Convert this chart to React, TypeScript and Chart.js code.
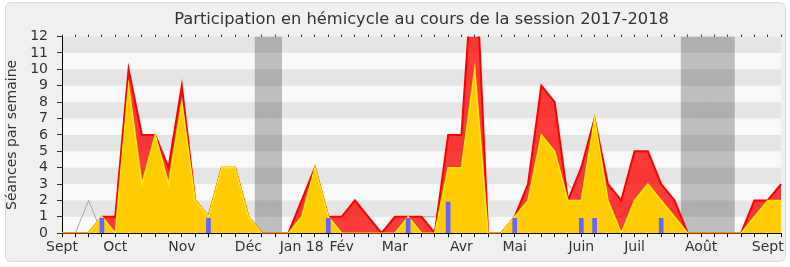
import React, { useEffect, useRef } from "react";
import { Chart, registerables } from "chart.js";

Chart.register(...registerables);

// 55 weeks, Sept 2017 -> Sept 2018
const weekLabels: string[] = [
  "Sept", "", "", "", "Oct", "", "", "", "", "Nov", "", "", "", "", "Déc", "", "", "", "Jan 18", "", "",
  "Fév", "", "", "", "Mar", "", "", "", "", "Avr", "", "", "", "Mai", "", "", "", "", "Juin", "", "", "",
  "Juil", "", "", "", "", "Août", "", "", "", "", "Sept", "",
];

// Présences (red area)
const presences: number[] = [
  0, 0, 0, 1, 1, 10, 6, 6, 4, 9, 2, 1, 4, 4, 1, 0, 0, 0, 2, 4, 1, 1, 2, 1, 0, 1, 1, 1, 0, 6, 6, 18, 0, 0,
  1, 3, 9, 8, 2, 4, 7, 3, 2, 5, 5, 3, 2, 0, 0, 0, 0, 0, 2, 2, 3,
];

// Participations (yellow area)
const participations: number[] = [
  0, 0, 0, 1, 0, 9, 3, 6, 3, 8, 2, 1, 4, 4, 1, 0, 0, 0, 1, 4, 1, 0, 0, 0, 0, 0, 1, 0, 0, 4, 4, 10, 0, 0,
  1, 2, 6, 5, 2, 2, 7, 2, 0, 2, 3, 2, 1, 0, 0, 0, 0, 0, 1, 2, 2,
];

// Médiane (gray line)
const mediane: number[] = [
  0, 0, 2, 0, 1, 2, 1, 1, 1, 2, 1, 1, 2, 1, 1, 0, 0, 0, 1, 1, 1, 0, 0, 0, 0, 1, 1, 1, 1, 2, 2, 5, 0, 0,
  1, 3, 3, 3, 3, 2, 2, 1, 1, 2, 2, 2, 1, 0, 0, 0, 0, 0, 2, 1, 2,
];

// Questions orales (blue bars)
const questions: (number | null)[] = [
  null, null, null, 0.9, null, null, null, null, null, null, null, 0.9, null, null, null, null, null, null,
  null, null, 0.9, null, null, null, null, null, 0.9, null, null, 1.9, null, null, null, null, 0.9, null,
  null, null, null, 0.9, 0.9, null, null, null, null, 0.9, null, null, null, null, null, null, null, null, null,
];

// Vacances parlementaires (gray bands)
const vacances: (number | null)[] = [
  null, null, null, null, null, null, null, null, null, null, null, null, null, null, null, 12, 12, null,
  null, null, null, null, null, null, null, null, null, null, null, null, null, null, null, null, null, null,
  null, null, null, null, null, null, null, null, null, null, null, 12, 12, 12, 12, null, null, null, null,
];

const VAC_INDEX = 0;
const FONT = "DejaVu Sans";

const framePlugin = {
  id: "frame",
  beforeDraw(chart: any) {
    const { ctx, width, height, chartArea } = chart;
    ctx.save();
    ctx.fillStyle = "#ffffff";
    ctx.fillRect(0, 0, width, height);
    const x = 5.5, y = 2.5, w = 780, h = 259, r = 6;
    ctx.beginPath();
    ctx.moveTo(x + r, y);
    ctx.lineTo(x + w - r, y);
    ctx.quadraticCurveTo(x + w, y, x + w, y + r);
    ctx.lineTo(x + w, y + h - r);
    ctx.quadraticCurveTo(x + w, y + h, x + w - r, y + h);
    ctx.lineTo(x + r, y + h);
    ctx.quadraticCurveTo(x, y + h, x, y + h - r);
    ctx.lineTo(x, y + r);
    ctx.quadraticCurveTo(x, y, x + r, y);
    ctx.closePath();
    ctx.fillStyle = "#f0f0f0";
    ctx.fill();
    ctx.strokeStyle = "#dcdcdc";
    ctx.lineWidth = 1;
    ctx.stroke();
    ctx.fillStyle = "#f9f9f9";
    ctx.fillRect(chartArea.left, chartArea.top, chartArea.right - chartArea.left, chartArea.bottom - chartArea.top);
    ctx.restore();
  },
  afterDatasetDraw(chart: any, args: any) {
    if (args.index !== VAC_INDEX) return;
    const { ctx, chartArea } = chart;
    const ys = chart.scales.y;
    ctx.save();
    ctx.fillStyle = "rgba(0,0,0,0.08)";
    for (let v = 1; v < 12; v += 2) {
      const top = ys.getPixelForValue(v + 1);
      const bot = ys.getPixelForValue(v);
      ctx.fillRect(chartArea.left + 1, top, chartArea.right - chartArea.left - 1, bot - top);
    }
    ctx.restore();
  },
};

export default function App() {
  const ref = useRef<HTMLCanvasElement | null>(null);
  useEffect(() => {
    document.body.style.margin = "0";
    const canvas = ref.current!;
    const chart = new Chart(canvas, {
      type: "line",
      data: {
        labels: weekLabels,
        datasets: [
          {
            type: "bar",
            label: "Vacances",
            data: vacances,
            backgroundColor: "#bebebe",
            barPercentage: 1,
            categoryPercentage: 1,
            grouped: false,
            order: 5,
          } as any,
          {
            type: "line",
            label: "Médiane",
            data: mediane,
            borderColor: "rgba(155,155,155,0.85)",
            borderWidth: 1,
            pointRadius: 0,
            fill: false,
            tension: 0,
            order: 4,
          },
          {
            type: "line",
            label: "Présences",
            data: presences,
            borderColor: "#ff0000",
            borderWidth: 2,
            backgroundColor: "rgba(255,0,0,0.76)",
            pointRadius: 0,
            fill: "origin",
            tension: 0,
            order: 3,
          },
          {
            type: "line",
            label: "Participations",
            data: participations,
            borderColor: "#ffee00",
            borderWidth: 1.5,
            backgroundColor: "rgba(255,212,0,0.94)",
            pointRadius: 0,
            fill: "origin",
            tension: 0,
            order: 2,
          },
          {
            type: "bar",
            label: "Questions orales",
            data: questions,
            backgroundColor: "#6464ff",
            barThickness: 4,
            grouped: false,
            order: 1,
          } as any,
        ],
      },
      options: {
        responsive: false,
        devicePixelRatio: 1,
        animation: false,
        layout: { padding: { left: 0, right: 9, top: 0, bottom: 10 } },
        plugins: {
          legend: { display: false },
          tooltip: { enabled: false },
          title: {
            display: true,
            fullSize: false,
            text: "Participation en hémicycle au cours de la session 2017-2018",
            color: "#333",
            font: { family: FONT, size: 16.3, weight: "normal" },
            padding: { top: 10, bottom: 5 },
          },
        },
        scales: {
          x: {
            type: "category",
            position: "bottom",
            offset: false,
            grid: { display: true, drawOnChartArea: false, drawTicks: true, tickLength: 4, color: "#000", offset: false },
            border: { display: true, color: "#000" },
            ticks: {
              autoSkip: false,
              maxRotation: 0,
              minRotation: 0,
              padding: 1.5,
              color: "#333",
              font: { family: FONT, size: 14 },
            },
          },
          xTop: {
            type: "category",
            position: "top",
            offset: false,
            grid: { display: true, drawOnChartArea: false, drawTicks: true, tickLength: 2, color: "#333", offset: false },
            border: { display: false },
            ticks: { display: false, autoSkip: false },
          },
          y: {
            type: "linear",
            min: 0,
            max: 12,
            grid: { display: true, drawOnChartArea: false, drawTicks: true, tickLength: 5, color: "#333" },
            border: { display: true, color: "#000" },
            ticks: { stepSize: 1, autoSkip: false, padding: 9, color: "#333", font: { family: FONT, size: 14 } },
            title: {
              display: true,
              text: "Séances par semaine",
              color: "#333",
              font: { family: FONT, size: 14 },
              padding: { top: 4, bottom: 0 },
            },
            afterFit: (s: any) => {
              s.width = 62;
            },
          },
        },
      } as any,
      plugins: [framePlugin],
    });
    return () => chart.destroy();
  }, []);
  return (
    <div style={{ width: 790, height: 267 }}>
      <canvas ref={ref} width={790} height={267} style={{ display: "block" }} />
    </div>
  );
}
